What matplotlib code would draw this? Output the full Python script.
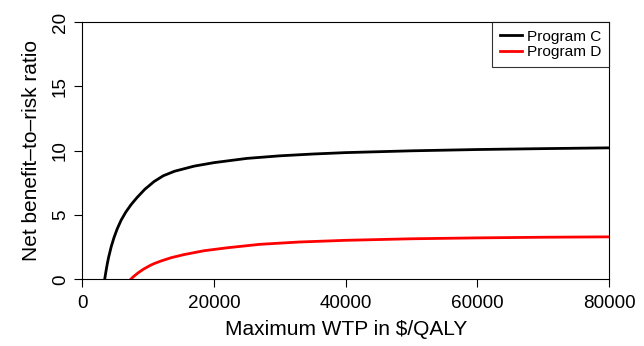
import numpy as np
import matplotlib.pyplot as plt

plt.rcParams['font.family'] = ['Liberation Sans', 'DejaVu Sans']

# WTP values ($/QALY) and net benefit-to-risk ratio
wtp_c = [3400, 3600, 3800, 4000, 4400, 4800, 5300, 5900, 6600, 7400, 8300,
         9500, 10900, 12300, 14000, 17000, 20000, 25000, 30000, 35000, 40000,
         50000, 60000, 70000, 80000]
ratio_c = [0, 0.64, 1.22, 1.72, 2.55, 3.22, 3.92, 4.6, 5.22, 5.8, 6.35,
           7.0, 7.6, 8.05, 8.4, 8.8, 9.07, 9.4, 9.6, 9.74, 9.85,
           9.99, 10.09, 10.16, 10.22]

wtp_d = [7350, 7800, 8500, 9300, 10390, 11000, 12000, 13500, 15440, 18480,
         22000, 27000, 33000, 40000, 50000, 60000, 70000, 80000]
ratio_d = [0, 0.22, 0.51, 0.79, 1.1, 1.24, 1.43, 1.68, 1.92, 2.22,
           2.45, 2.72, 2.9, 3.03, 3.15, 3.22, 3.27, 3.3]

xticks = [0, 20000, 40000, 60000, 80000]
yticks = [0, 5, 10, 15, 20]

fig = plt.figure(figsize=(6.44, 3.46), dpi=100)
ax = fig.add_axes([0.1278, 0.1928, 0.8179, 0.7434])

ax.plot(wtp_c, ratio_c, color='black', lw=2.0, label='Program C')
ax.plot(wtp_d, ratio_d, color='red', lw=2.0, label='Program D')

ax.set_xlim(0, 80000)
ax.set_ylim(0, 20)
ax.set_xticks(xticks)
ax.set_yticks(yticks)
ax.set_xticklabels([str(v) for v in xticks], fontsize=13.6)
ax.set_yticklabels([str(v) for v in yticks], fontsize=13.6, rotation=90, va='center')
ax.tick_params(direction='out', length=6, width=0.8)
ax.tick_params(axis='x', pad=5)
ax.tick_params(axis='y', pad=3.5)

for s in ax.spines.values():
    s.set_linewidth(0.8)

ax.set_xlabel('Maximum WTP in $/QALY', fontsize=15)
ax.set_ylabel('Net benefit\u2013to\u2013risk ratio', fontsize=15)
ax.xaxis.set_label_coords(0.5, -0.158)
ax.yaxis.set_label_coords(-0.079, 0.5)

leg = ax.legend(loc='upper right', fontsize=11.1, frameon=True, fancybox=False,
                handlelength=1.45, handletextpad=0.3, borderpad=0.5,
                labelspacing=0.08, borderaxespad=0, edgecolor='black')
leg.get_frame().set_linewidth(0.8)

fig.savefig('out.png', dpi=100)
